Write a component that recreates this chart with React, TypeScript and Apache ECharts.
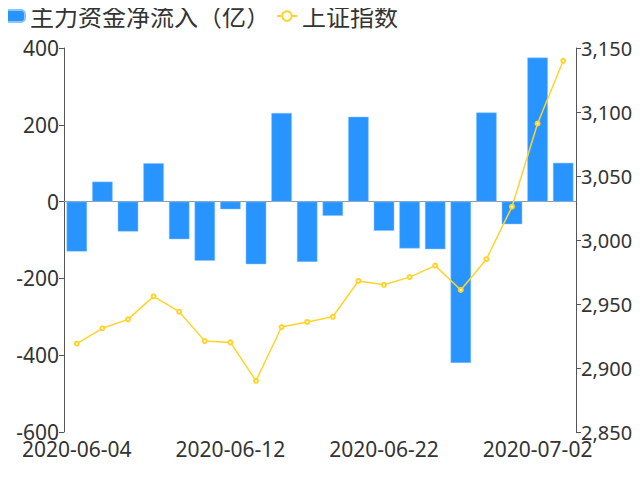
import React, { useEffect, useRef } from "react";
import * as echarts from "echarts";

const dates = [
  "2020-06-04", "2020-06-05", "2020-06-08", "2020-06-09", "2020-06-10",
  "2020-06-11", "2020-06-12", "2020-06-15", "2020-06-16", "2020-06-17",
  "2020-06-18", "2020-06-19", "2020-06-22", "2020-06-23", "2020-06-24",
  "2020-06-29", "2020-06-30", "2020-07-01", "2020-07-02", "2020-07-03",
];
const netInflow = [
  -130, 52, -78, 100, -98, -154, -20, -163, 231, -157,
  -37, 221, -76, -122, -124, -420, 232, -59, 375, 101,
];
const shIndex = [
  2919, 2931, 2938, 2956, 2944, 2921, 2920, 2890, 2932, 2936,
  2940, 2968, 2965, 2971, 2980, 2961, 2985, 3026, 3091, 3140,
];

const FONT = "'Noto Sans', 'Noto Sans CJK SC', sans-serif";
const ROUND_ICON =
  "path://M4,0 H16 A4,4 0 0 1 20,4 V8 A4,4 0 0 1 16,12 H4 A4,4 0 0 1 0,8 V4 A4,4 0 0 1 4,0 Z";

export default function App() {
  const ref = useRef<HTMLDivElement>(null);
  useEffect(() => {
    if (!ref.current) return;
    const chart = echarts.init(ref.current, null, { renderer: "svg" });
    chart.setOption({
      animation: false,
      textStyle: { fontFamily: FONT },
      legend: {
        left: -1,
        top: -1,
        padding: 5,
        itemWidth: 20,
        itemHeight: 12,
        itemGap: 6,
        textStyle: { fontSize: 24, color: "#333", fontFamily: FONT },
        data: [
          { name: "主力资金净流入（亿）", icon: ROUND_ICON },
          { name: "上证指数" },
        ],
      },
      grid: { left: 64, right: 64, top: 48, bottom: 48 },
      xAxis: {
        type: "category",
        data: dates,
        axisLine: { onZero: true, lineStyle: { color: "#999" } },
        axisTick: { lineStyle: { color: "#999" } },
        axisLabel: { fontSize: 21, color: "#333", interval: 5, margin: 6, fontFamily: FONT },
      },
      yAxis: [
        {
          type: "value",
          min: -600,
          max: 400,
          interval: 200,
          splitLine: { show: false },
          axisLine: { show: true, lineStyle: { color: "#555" } },
          axisTick: { show: true, lineStyle: { color: "#555" } },
          axisLabel: { fontSize: 21, color: "#333", margin: 5, fontFamily: FONT },
        },
        {
          type: "value",
          min: 2850,
          max: 3150,
          interval: 50,
          splitLine: { show: false },
          axisLine: { show: true, lineStyle: { color: "#555" } },
          axisTick: { show: true, lineStyle: { color: "#555" } },
          axisLabel: { fontSize: 20, color: "#333", margin: 5, fontFamily: FONT },
        },
      ],
      series: [
        {
          name: "主力资金净流入（亿）",
          type: "bar",
          data: netInflow,
          barCategoryGap: "20%",
          itemStyle: { color: "#2894ff", borderColor: "#8cc4ff", borderWidth: 0.5 },
        },
        {
          name: "上证指数",
          type: "line",
          yAxisIndex: 1,
          data: shIndex,
          symbol: "emptyCircle",
          symbolSize: 4,
          lineStyle: { color: "#ffd42a", width: 1.5 },
          itemStyle: { color: "#ffd42a" },
        },
      ],
    });
    return () => chart.dispose();
  }, []);
  return <div ref={ref} style={{ width: 640, height: 480, margin: -8 }} />;
}
